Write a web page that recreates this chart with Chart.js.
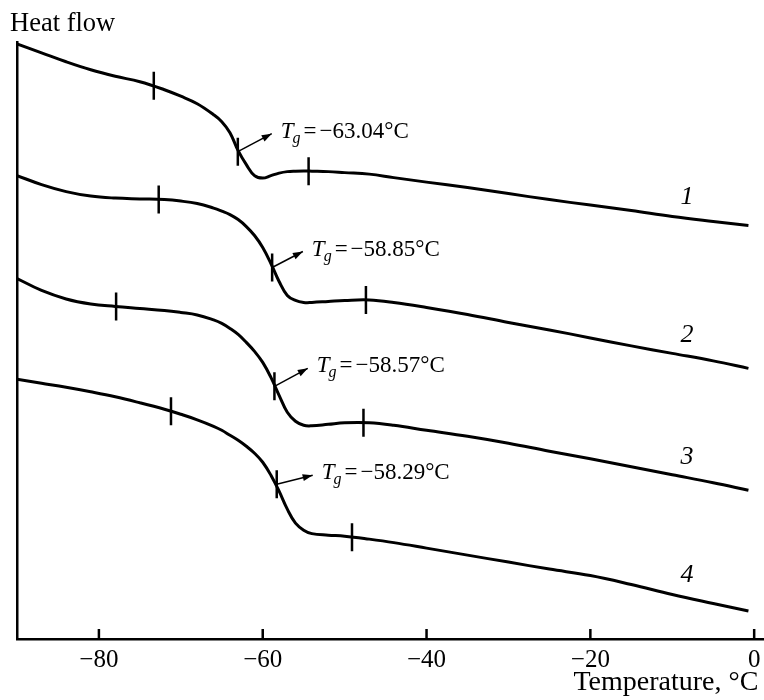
<!DOCTYPE html>
<html>
<head>
<meta charset="utf-8">
<script src="https://cdn.jsdelivr.net/npm/chart.js@4.4.1/dist/chart.umd.min.js"></script>
<style>
  html, body { margin: 0; padding: 0; background: #fff; overflow: hidden; }
  canvas { display: block; }
</style>
</head>
<body>
<canvas id="myChart" width="764" height="700"></canvas>
<script>
// temperature grid, °C
const temps = [-90, -87, -84, -81, -78, -75, -72, -70, -68, -66, -65, -64, -63, -62, -61, -60, -59, -58, -57,
  -56, -55, -54, -52, -50, -47, -44, -40, -35, -30, -25, -20, -15, -10, -5, -0.7];

// heat flow (arbitrary units)
const curve1 = [59.6, 58.7, 57.8, 57.0, 56.35, 55.8, 55.0, 54.35, 53.6, 52.5, 51.8, 50.7, 48.9, 47.5, 46.4, 46.15, 46.4, 46.65, 46.8,
  46.85, 46.87, 46.85, 46.8, 46.7, 46.55, 46.2, 45.75, 45.2, 44.6, 44.0, 43.45, 42.9, 42.3, 41.8, 41.4];
const curve2 = [46.4, 45.5, 44.8, 44.35, 44.15, 44.07, 44.0, 43.85, 43.6, 43.15, 42.85, 42.5, 42.0, 41.3, 40.4, 39.2, 37.6, 35.8, 34.4,
  33.9, 33.7, 33.7, 33.8, 33.9, 33.95, 33.7, 33.2, 32.5, 31.7, 30.95, 30.15, 29.35, 28.6, 27.85, 27.1];
const curve3 = [36.1, 34.9, 34.05, 33.55, 33.3, 33.1, 32.9, 32.7, 32.45, 31.95, 31.6, 31.1, 30.5, 29.7, 28.8, 27.7, 26.2, 24.4, 22.7,
  21.8, 21.4, 21.35, 21.5, 21.65, 21.65, 21.4, 20.9, 20.3, 19.6, 18.8, 18.05, 17.25, 16.45, 15.65, 14.9];
const curve4 = [26.0, 25.6, 25.2, 24.75, 24.25, 23.65, 23.0, 22.5, 21.95, 21.3, 20.9, 20.4, 19.9, 19.3, 18.6, 17.7, 16.4, 14.8, 13.0,
  11.6, 10.9, 10.55, 10.4, 10.3, 10.0, 9.65, 9.1, 8.4, 7.7, 7.0, 6.35, 5.45, 4.45, 3.55, 2.8];

// glass transition temperatures
const tgValues = [-63.04, -58.85, -58.57, -58.29];

// small vertical marks on each curve (onset, Tg, end)
const markTemps = [[-73.3, -63.04, -54.4], [-72.7, -58.85, -47.4], [-77.9, -58.57, -47.7], [-71.2, -58.29, -49.1]];
const markVals = [[55.4, 48.8, 46.85], [44.0, 37.2, 33.95], [33.3, 25.3, 21.65], [22.8, 15.5, 10.2]];

// where the Tg arrows point to
const arrowEndT = [-58.9, -55.1, -54.5, -53.9];
const arrowEndV = [50.6, 38.8, 27.1, 16.4];

// curve numbers at the right
const curveNames = ['1', '2', '3', '4'];
const nameT = [-8.2, -8.2, -8.2, -8.2];
const nameV = [44.2, 30.4, 18.2, 6.4];

const xTicks = [-80, -60, -40, -20, 0];

const curves = [curve1, curve2, curve3, curve4];
const serif = '"Liberation Serif", "Times New Roman", serif';

const datasets = [];
curves.forEach((c, i) => {
  datasets.push({
    label: 'Curve ' + curveNames[i],
    data: temps.map((t, j) => ({x: t, y: c[j]})),
    borderColor: '#000',
    borderWidth: 3,
    pointRadius: 0,
    tension: 0.4,
    fill: false
  });
});
markTemps.forEach((m, i) => {
  datasets.push({
    label: 'marks ' + curveNames[i],
    data: m.map((t, j) => ({x: t, y: markVals[i][j]})),
    showLine: false,
    pointStyle: 'line',
    rotation: 90,
    pointRadius: 14,
    borderColor: '#000',
    borderWidth: 2.5
  });
});

function arrow(ctx, x1, y1, x2, y2) {
  ctx.beginPath();
  ctx.moveTo(x1, y1);
  ctx.lineTo(x2, y2);
  ctx.stroke();
  const a = Math.atan2(y2 - y1, x2 - x1);
  const len = 10, wid = 3.5;
  ctx.beginPath();
  ctx.moveTo(x2, y2);
  ctx.lineTo(x2 - len * Math.cos(a) + wid * Math.sin(a), y2 - len * Math.sin(a) - wid * Math.cos(a));
  ctx.lineTo(x2 - len * Math.cos(a) - wid * Math.sin(a), y2 - len * Math.sin(a) + wid * Math.cos(a));
  ctx.closePath();
  ctx.fill();
}

// the plot runs right up to the canvas edge, as in the original figure
const fullWidth = {
  id: 'fullWidth',
  afterLayout(chart) {
    const a = chart.chartArea, x = chart.scales.x;
    a.right = chart.width;
    a.width = a.right - a.left;
    x.right = a.right;
    x.width = a.width;
    x.configure();
  }
};

const annotations = {
  id: 'annotations',
  afterDraw(chart) {
    const ctx = chart.ctx;
    const xs = chart.scales.x, ys = chart.scales.y;
    ctx.save();
    ctx.strokeStyle = '#000';
    ctx.fillStyle = '#000';

    // inward ticks on the x axis
    ctx.lineWidth = 2.5;
    xTicks.forEach(v => {
      const px = xs.getPixelForValue(v);
      ctx.beginPath();
      ctx.moveTo(px, chart.chartArea.bottom);
      ctx.lineTo(px, chart.chartArea.bottom - 10);
      ctx.stroke();
    });

    // Tg arrows and labels
    ctx.lineWidth = 1.5;
    tgValues.forEach((tg, i) => {
      const x1 = xs.getPixelForValue(tg), y1 = ys.getPixelForValue(markVals[i][1]);
      const x2 = xs.getPixelForValue(arrowEndT[i]), y2 = ys.getPixelForValue(arrowEndV[i]);
      arrow(ctx, x1, y1, x2, y2);

      let x = x2 + 9;
      const y = y2 + 4;
      ctx.textBaseline = 'alphabetic';
      ctx.textAlign = 'left';
      ctx.font = 'italic 23px ' + serif;
      ctx.fillText('T', x, y);
      x += ctx.measureText('T').width - 1;
      ctx.font = 'italic 16px ' + serif;
      ctx.fillText('g', x, y + 5);
      x += ctx.measureText('g').width + 3;
      ctx.font = '23px ' + serif;
      ctx.fillText('=', x, y);
      x += ctx.measureText('=').width + 3;
      ctx.fillText('\u2212' + Math.abs(tg).toFixed(2) + '°C', x, y);
    });

    // curve numbers
    ctx.font = 'italic 26px ' + serif;
    ctx.textAlign = 'center';
    ctx.textBaseline = 'middle';
    curveNames.forEach((n, i) => {
      ctx.fillText(n, xs.getPixelForValue(nameT[i]), ys.getPixelForValue(nameV[i]));
    });
    ctx.restore();
  }
};

const ctx = document.getElementById('myChart').getContext('2d');
new Chart(ctx, {
  type: 'line',
  data: { datasets: datasets },
  options: {
    responsive: false,
    animation: false,
    devicePixelRatio: 1,
    layout: { padding: { left: 10, right: 0, top: 0, bottom: 0 } },
    plugins: {
      legend: { display: false },
      tooltip: { enabled: false },
      title: {
        display: true,
        text: 'Heat flow',
        align: 'start',
        color: '#000',
        font: { family: serif, size: 26.5, weight: 'normal' },
        padding: { top: 8, bottom: 2 }
      }
    },
    scales: {
      x: {
        type: 'linear',
        min: -90,
        max: 1.2,
        afterBuildTicks: scale => { scale.ticks = xTicks.map(v => ({ value: v })); },
        afterFit: scale => {
          scale.height = 61;
          scale.paddingLeft = 0;
          scale.paddingRight = 0;
        },
        border: { display: true, color: '#000', width: 2.5 },
        grid: { drawOnChartArea: false, drawTicks: false },
        ticks: {
          color: '#000',
          padding: 6,
          maxRotation: 0,
          font: { family: serif, size: 25 },
          callback: v => (v < 0 ? '\u2212' + Math.abs(v) : String(v))
        },
        title: {
          display: true,
          text: 'Temperature, °C\u2009',
          align: 'end',
          color: '#000',
          font: { family: serif, size: 28 },
          padding: { top: 0, bottom: 1 }
        }
      },
      y: {
        min: 0,
        max: 59.8,
        afterFit: scale => {
          scale.width = 7;
          scale.paddingTop = 0;
          scale.paddingBottom = 0;
        },
        border: { display: true, color: '#000', width: 2.5 },
        grid: { drawOnChartArea: false, drawTicks: false },
        ticks: { display: false }
      }
    }
  },
  plugins: [fullWidth, annotations]
});
</script>
</body>
</html>
